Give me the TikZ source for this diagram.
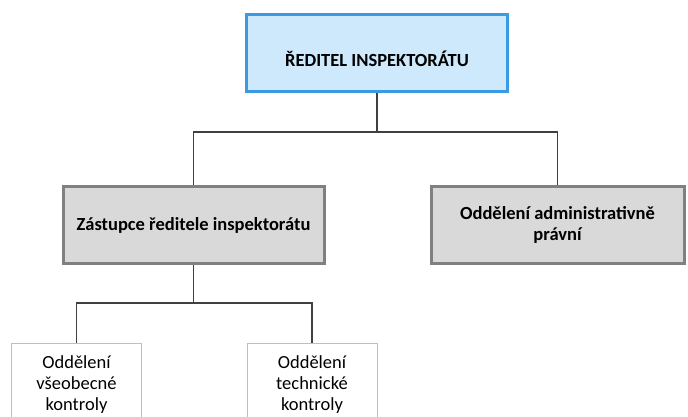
\documentclass[tikz,border=0pt]{standalone}
\usepackage{fontspec}
\setmainfont{Carlito}
\definecolor{headfill}{HTML}{CDE9FB}
\definecolor{headline}{HTML}{3A9BE3}
\definecolor{deptfill}{HTML}{D9D9D9}
\definecolor{deptline}{HTML}{808080}
\definecolor{unitline}{HTML}{BFBFBF}
\definecolor{wire}{HTML}{404040}
\tikzset{
  headbox/.style={draw=headline, fill=headfill, line width=3pt, minimum width=261pt, minimum height=77pt, inner sep=0pt},
  deptbox/.style={draw=deptline, fill=deptfill, line width=3pt, minimum height=77pt, inner sep=0pt, align=center,
                  font=\fontsize{18.5}{20.5}\selectfont\bfseries},
  unitbox/.style={draw=unitline, line width=1pt, minimum width=130pt, minimum height=100pt, anchor=north, inner sep=0pt},
  unittext/.style={align=center, anchor=north, inner sep=0pt, font=\fontsize{18.5}{21}\selectfont},
  wireline/.style={draw=wire, line width=1.5pt}
}
\begin{document}
\begin{tikzpicture}[x=1pt, y=-1pt]
  \useasboundingbox (0,0) rectangle (688,416);
  \clip (0,0) rectangle (688,416);
  % director, title set a little below the box centre
  \node[headbox, label={[font=\fontsize{18.5}{20.5}\selectfont\bfseries, anchor=base, yshift=-6pt]center:ŘEDITEL INSPEKTORÁTU}] (dir) at (377,53) {};
  % departments
  \node[deptbox, minimum width=261pt] (dep) at (193.5,225) {Zástupce ředitele inspektorátu};
  \node[deptbox, minimum width=253pt] (adm) at (557.5,225) {Oddělení administrativně\\právní};
  % units (their lower edge runs off the page)
  \node[unitbox, label={[unittext, yshift=-12pt]north:Oddělení\\všeobecné\\kontroly}] (gen) at (76.5,343) {};
  \node[unitbox, label={[unittext, yshift=-12pt]north:Oddělení\\technické\\kontroly}] (tec) at (312,343) {};
  % connectors
  \coordinate (busA) at (377,132);
  \coordinate (busB) at (193.5,303);
  \draw[wireline] (dir.south) -- (busA);
  \draw[wireline] (busA) -| (dep.north);
  \draw[wireline] (busA) -| (adm.north);
  \draw[wireline] (dep.south) -- (busB);
  \draw[wireline] (busB) -| (gen.north);
  \draw[wireline] (busB) -| (tec.north);
\end{tikzpicture}
\end{document}
